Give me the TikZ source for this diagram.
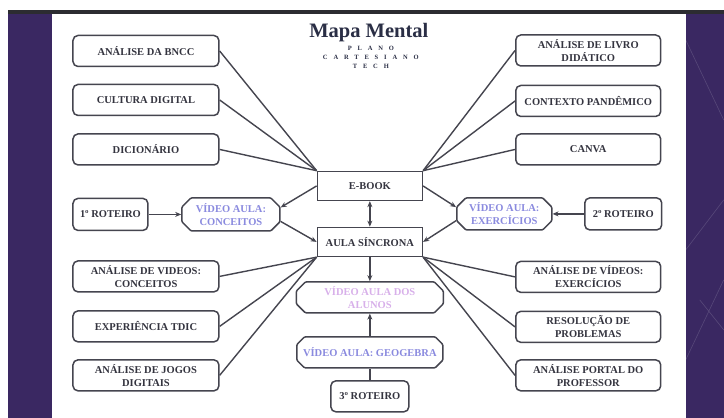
\documentclass[tikz,border=0pt]{standalone}
\usepackage{fontspec}
\setmainfont{Liberation Serif}
\newfontfamily\spacedfont[LetterSpace=90]{Liberation Serif}
\usetikzlibrary{shapes.misc,arrows.meta}
\definecolor{ink}{HTML}{34343F}
\definecolor{edge}{HTML}{45454F}
\definecolor{panel}{HTML}{3A2862}
\definecolor{band}{HTML}{2C2C31}
\definecolor{vidblue}{HTML}{8A8ADF}
\definecolor{vidpink}{HTML}{D8B0EA}
\definecolor{titleink}{HTML}{2A2E45}

\begin{document}
\begin{tikzpicture}[x=1pt, y=-1pt,
    mapbox/.style={draw=edge, line width=1.5pt, rounded corners=5pt, fill=white, text=ink,
      font=\bfseries\fontsize{10.5}{13}\selectfont, align=center, inner sep=0pt, minimum height=31pt},
    hubbox/.style={mapbox, rounded corners=0pt, minimum width=105pt, minimum height=29pt},
    vidbox/.style={mapbox, chamfered rectangle, chamfered rectangle xsep=6pt, rounded corners=1pt, text=vidblue},
    link/.style={draw=edge, line width=1.4pt},
    tip/.tip={Stealth[length=6pt,width=5pt]},
    arr/.style={link, -tip}]
  \fill[white] (0,0) rectangle (724,418);
  \fill[band] (8,10) rectangle (724,14);
  \fill[panel] (8,14) rectangle (52,418);
  \fill[panel] (686,14) rectangle (724,418);
  \draw[white, opacity=0.15, line width=0.6pt] (686,40) -- (724,120) (686,250) -- (724,200) (700,300) -- (724,330) (686,360) -- (724,280);
  \useasboundingbox (0,0) rectangle (724,418);

  \node[font=\bfseries\fontsize{20.5}{22}\selectfont, text=titleink] (title) at (369,33) {Mapa Mental};
  \node[font=\spacedfont\bfseries\fontsize{6.5}{9}\selectfont, text=titleink, align=center] (sub) at (371,57) {PLANO\\CARTESIANO\\TECH};

  \node[hubbox] (ebook) at (370,186) {E-BOOK};
  \node[hubbox] (aula) at (370,242) {AULA SÍNCRONA};

  \node[mapbox, minimum width=146pt] (bncc) at (146,51) {ANÁLISE DA BNCC};
  \node[mapbox, minimum width=146pt] (cultura) at (146,100) {CULTURA DIGITAL};
  \node[mapbox, minimum width=146pt] (dicio) at (146,149.5) {DICIONÁRIO};
  \node[mapbox, minimum width=145pt] (livro) at (588.5,50.5) {ANÁLISE DE LIVRO\\DIDÁTICO};
  \node[mapbox, minimum width=145pt] (pandemia) at (588.5,101) {CONTEXTO PANDÊMICO};
  \node[mapbox, minimum width=145pt] (canva) at (588.5,149.5) {CANVA};

  \node[mapbox, minimum width=75pt, minimum height=32pt] (rot1) at (110.5,214.5) {1º ROTEIRO};
  \node[vidbox, minimum width=98pt, minimum height=33pt] (conceitos) at (231,214.5) {VÍDEO AULA:\\CONCEITOS};
  \node[vidbox, minimum width=95pt, minimum height=32pt] (exercicios) at (504.5,214) {VÍDEO AULA:\\EXERCÍCIOS};
  \node[mapbox, minimum width=77pt, minimum height=32pt] (rot2) at (623.5,214) {2º ROTEIRO};

  \node[mapbox, minimum width=146pt] (vidconc) at (146,276.5) {ANÁLISE DE VIDEOS:\\CONCEITOS};
  \node[mapbox, minimum width=146pt] (tdic) at (146,326.5) {EXPERIÊNCIA TDIC};
  \node[mapbox, minimum width=146pt] (jogos) at (146,375.5) {ANÁLISE DE JOGOS\\DIGITAIS};
  \node[mapbox, minimum width=145pt] (videxer) at (588.5,277) {ANÁLISE DE VÍDEOS:\\EXERCÍCIOS};
  \node[mapbox, minimum width=145pt] (resol) at (588.5,327) {RESOLUÇÃO DE\\PROBLEMAS};
  \node[mapbox, minimum width=145pt] (portal) at (588.5,375.5) {ANÁLISE PORTAL DO\\PROFESSOR};

  \node[vidbox, minimum width=147pt, text=vidpink] (alunos) at (370,297.5) {VÍDEO AULA DOS\\ALUNOS};
  \node[vidbox, minimum width=146pt] (geogebra) at (370,352.5) {VÍDEO AULA: GEOGEBRA};
  \node[mapbox, minimum width=78pt] (rot3) at (370,396.5) {3º ROTEIRO};

  \draw[link] (bncc.east) -- (ebook.north west);
  \draw[link] (cultura.east) -- (ebook.north west);
  \draw[link] (dicio.east) -- (ebook.north west);
  \draw[link] (livro.west) -- (ebook.north east);
  \draw[link] (pandemia.west) -- (ebook.north east);
  \draw[link] (canva.west) -- (ebook.north east);
  \draw[link] (vidconc.east) -- (aula.south west);
  \draw[link] (tdic.east) -- (aula.south west);
  \draw[link] (jogos.east) -- (aula.south west);
  \draw[link] (videxer.west) -- (aula.south east);
  \draw[link] (resol.west) -- (aula.south east);
  \draw[link] (portal.west) -- (aula.south east);

  \draw[arr] (rot1.east) -- (conceitos.west);
  \draw[arr] (ebook.west) -- (conceitos.8);
  \draw[arr] (conceitos.-8) -- (aula.west);
  \draw[arr] (rot2.west) -- (exercicios.east);
  \draw[arr] (ebook.east) -- (exercicios.172);
  \draw[arr] (exercicios.188) -- (aula.east);
  \draw[link, tip-tip] (ebook.south) -- (aula.north);
  \draw[arr] (aula.south) -- (alunos.north);
  \draw[arr] (geogebra.north) -- (alunos.south);
  \draw[link] (rot3.north) -- (geogebra.south);
\end{tikzpicture}
\end{document}
